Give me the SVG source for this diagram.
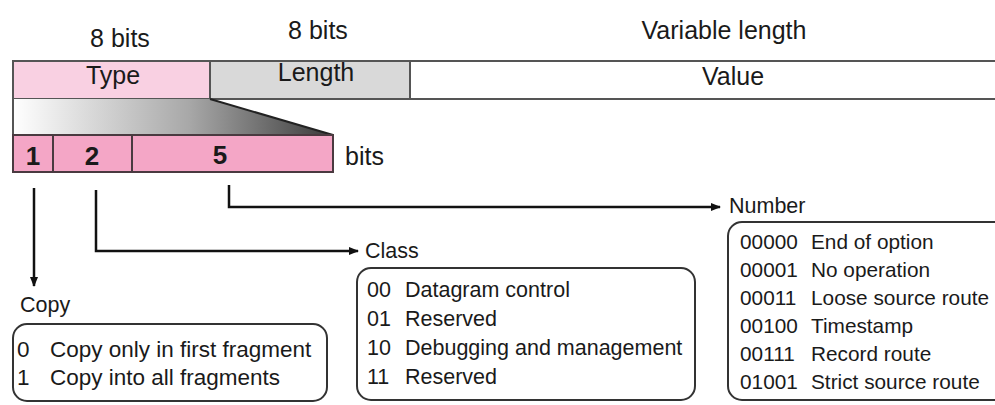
<svg xmlns="http://www.w3.org/2000/svg" width="995" height="405" viewBox="0 0 995 405">
<defs>
<linearGradient id="g" x1="0" y1="0" x2="1" y2="0">
<stop offset="0" stop-color="#ffffff"/>
<stop offset="0.55" stop-color="#a8a8a8"/>
<stop offset="1" stop-color="#3a3a3a"/>
</linearGradient>
<marker id="ah" viewBox="0 0 10 10" refX="9" refY="5" markerWidth="10" markerHeight="10" markerUnits="userSpaceOnUse" orient="auto">
<path d="M0,1 L10,5 L0,9 z" fill="#111"/>
</marker>
</defs>
<style>
text{font-family:"Liberation Sans",Arial,sans-serif;font-size:21.5px;fill:#1a1a1a}
.c{text-anchor:middle}
.h{font-size:25px}
.b{font-size:26px;font-weight:bold}
.cp{font-size:22.5px}
.nm{font-size:20.8px}
.box{stroke:#555;stroke-width:2}
.pk{stroke:#4a3a40;stroke-width:2}
.lbl{fill:none;stroke:#333;stroke-width:2}
.ln{fill:none;stroke:#111;stroke-width:2.5}
</style>
<rect width="995" height="405" fill="#fff"/>
<g id="header">
<text class="c h" x="120" y="47">8 bits</text>
<text class="c h" x="318" y="39">8 bits</text>
<text class="c h" x="724" y="39">Variable length</text>
</g>
<g id="type">
<rect class="box" x="13" y="61" width="197" height="38" fill="#f9d0e2"/>
<text class="c h" x="113" y="84">Type</text>
</g>
<g id="length">
<rect class="box" x="210" y="61" width="200" height="38" fill="#d9d9d9"/>
<text class="c h" x="316" y="81">Length</text>
</g>
<g id="value">
<rect class="box" x="410" y="61" width="600" height="38" fill="#fff"/>
<text class="c h" x="733" y="85">Value</text>
</g>
<g id="expand">
<polygon points="13,99 210,99 333,135 13,135" fill="url(#g)"/>
<line x1="210" y1="99" x2="333" y2="135" stroke="#222" stroke-width="2"/>
<line x1="13" y1="99" x2="13" y2="135" stroke="#555" stroke-width="2"/>
</g>
<g id="bits">
<rect class="pk" x="13" y="135" width="320" height="37" fill="#f4a6c6"/>
<line x1="53" y1="135" x2="53" y2="172" class="pk"/>
<line x1="132" y1="135" x2="132" y2="172" class="pk"/>
<text class="c b" x="33" y="165">1</text>
<text class="c b" x="92" y="165">2</text>
<text class="c b" x="220" y="164">5</text>
<text class="h" x="345" y="165">bits</text>
</g>
<g id="connectors">
<path class="ln" d="M34,188 V286" marker-end="url(#ah)"/>
<path class="ln" d="M96,190 V251 H358" marker-end="url(#ah)"/>
<path class="ln" d="M229,185 V207 H720" marker-end="url(#ah)"/>
</g>
<g id="copy">
<text x="20" y="312">Copy</text>
<rect class="lbl" x="13" y="324" width="314" height="77" rx="14"/>
<text class="cp" y="357"><tspan x="17">0</tspan><tspan x="50">Copy only in first fragment</tspan></text>
<text class="cp" y="385"><tspan x="17">1</tspan><tspan x="50">Copy into all fragments</tspan></text>
</g>
<g id="class">
<text x="365" y="258">Class</text>
<rect class="lbl" x="357" y="268" width="338" height="132" rx="14"/>
<text y="297"><tspan x="367">00</tspan><tspan x="405">Datagram control</tspan></text>
<text y="326"><tspan x="367">01</tspan><tspan x="405">Reserved</tspan></text>
<text y="355"><tspan x="367">10</tspan><tspan x="405">Debugging and management</tspan></text>
<text y="384"><tspan x="367">11</tspan><tspan x="405">Reserved</tspan></text>
</g>
<g id="number">
<text x="729" y="213">Number</text>
<rect class="lbl" x="728" y="222" width="300" height="178" rx="14"/>
<text class="nm" y="249"><tspan x="740">00000</tspan><tspan x="811">End of option</tspan></text>
<text class="nm" y="277"><tspan x="740">00001</tspan><tspan x="811">No operation</tspan></text>
<text class="nm" y="305"><tspan x="740">00011</tspan><tspan x="811">Loose source route</tspan></text>
<text class="nm" y="333"><tspan x="740">00100</tspan><tspan x="811">Timestamp</tspan></text>
<text class="nm" y="361"><tspan x="740">00111</tspan><tspan x="811">Record route</tspan></text>
<text class="nm" y="389"><tspan x="740">01001</tspan><tspan x="811">Strict source route</tspan></text>
</g>
</svg>
